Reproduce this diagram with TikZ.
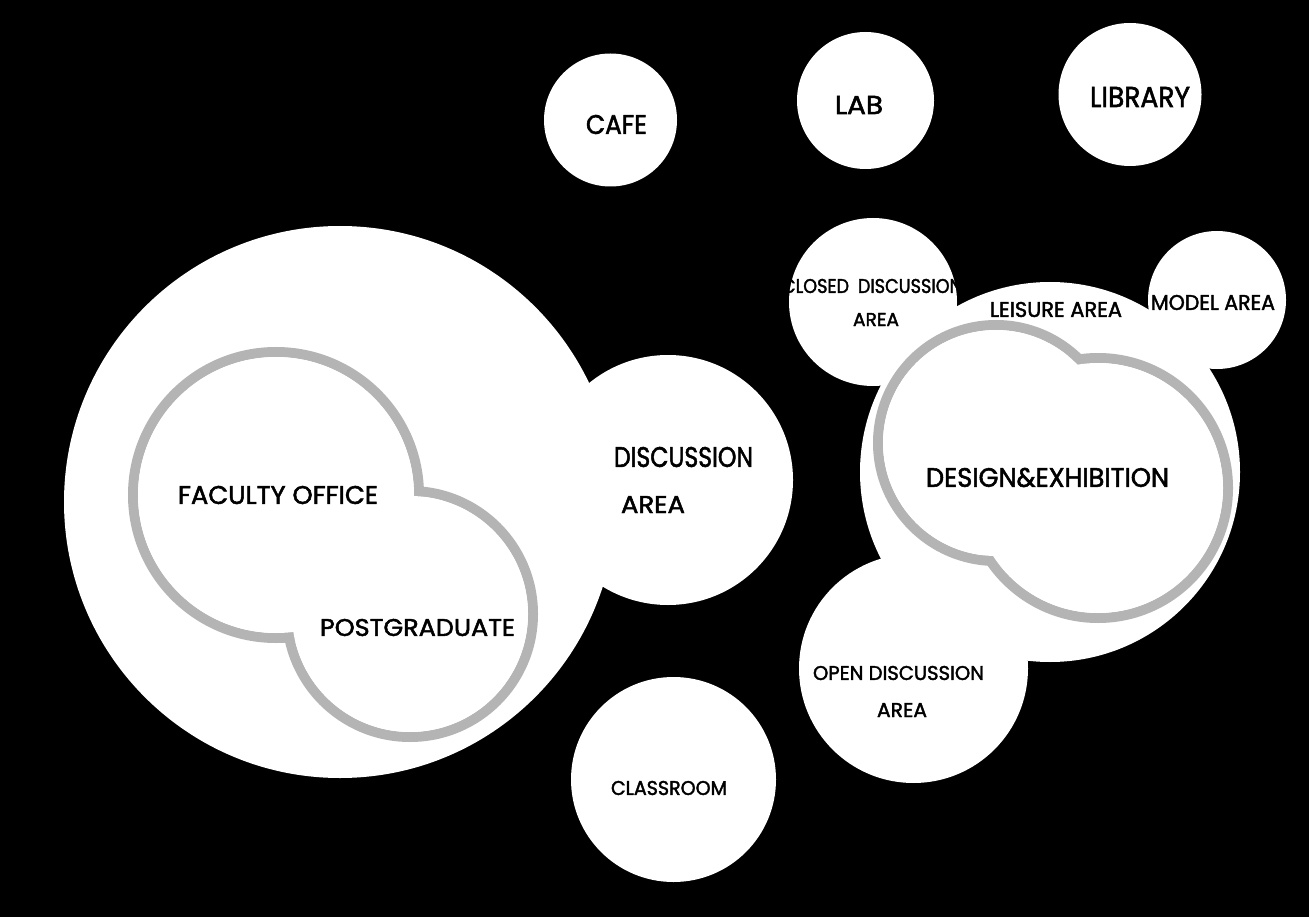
\documentclass[tikz,border=0pt]{standalone}
\usepackage{fontspec}
\setmainfont{Poppins}
\newfontfamily\lblfont{Poppins}[FakeBold=2]
\usepackage{graphicx}
\definecolor{ringgray}{RGB}{180,180,180}
\newcommand{\fitlbl}[3]{\resizebox{#1pt}{#2pt}{\lblfont #3}}
\tikzset{
  zone/.style={circle, fill=white, inner sep=0pt, outer sep=0pt, minimum size=#1},
  ringline/.style={circle, draw=ringgray, line width=10pt, inner sep=0pt, outer sep=0pt, minimum size=#1},
  ringfill/.style={circle, fill=white, inner sep=0pt, outer sep=0pt, minimum size=#1},
  lbl/.style={inner sep=0pt, outer sep=0pt, text=black}
}
\begin{document}
\begin{tikzpicture}[x=1pt,y=-1pt]
\fill[black] (0,0) rectangle (1309,917);
\useasboundingbox (0,0) rectangle (1309,917);
% white zones
\node[zone=552pt] (big) at (340,502) {};
\node[zone=250pt] (disc) at (668,480) {};
\node[zone=133pt] (cafe) at (610.5,120) {};
\node[zone=137pt] (lab) at (865.5,100.5) {};
\node[zone=143pt] (library) at (1130,94.5) {};
\node[zone=168pt] (closed) at (873,302) {};
\node[zone=138pt] (model) at (1217,300) {};
\node[zone=380pt] (design) at (1050,472) {};
\node[zone=229pt] (open) at (913.5,668.5) {};
\node[zone=205pt] (classroom) at (673.5,779.5) {};
% faculty / postgraduate outline
\node[ringline=286pt] (facring) at (276,495) {};
\node[ringline=246pt] (pgring) at (410,614) {};
\node[ringfill=276pt] (facin) at (276,495) {};
\node[ringfill=236pt] (pgin) at (410,614) {};
% design & exhibition outline
\node[ringline=236pt] (dering) at (996,443) {};
\node[ringline=260pt] (exring) at (1098,488) {};
\node[ringfill=226pt] (dein) at (996,443) {};
\node[ringfill=250pt] (exin) at (1098,488) {};
% labels
\node[lbl] (cafe-l) at (616.5,124.5) {\fitlbl{61}{19}{CAFE}};
\node[lbl] (lab-l) at (859,105) {\fitlbl{48}{18}{LAB}};
\node[lbl] (lib-l) at (1140,97) {\fitlbl{100}{20}{LIBRARY}};
\node[lbl] (closed-l1) at (872,286) {\fitlbl{180}{14}{CLOSED\hspace{0.5em}DISCUSSION}};
\node[lbl] (closed-l2) at (876,319.5) {\fitlbl{46}{13}{AREA}};
\node[lbl] (leisure-l) at (1056,309.5) {\fitlbl{132}{15}{LEISURE AREA}};
\node[lbl] (model-l) at (1213,302.5) {\fitlbl{124}{15}{MODEL AREA}};
\node[lbl] (design-l) at (1047.5,477.5) {\fitlbl{243}{19}{DESIGN\&EXHIBITION}};
\node[lbl] (disc-l1) at (683.5,457) {\fitlbl{139}{20}{DISCUSSION}};
\node[lbl] (disc-l2) at (653,504.5) {\fitlbl{64}{17}{AREA}};
\node[lbl] (fac-l) at (278,495) {\fitlbl{200}{18}{FACULTY OFFICE}};
\node[lbl] (pg-l) at (417.5,627.5) {\fitlbl{195}{17}{POSTGRADUATE}};
\node[lbl] (open-l1) at (898.5,673) {\fitlbl{171}{14}{OPEN DISCUSSION}};
\node[lbl] (open-l2) at (902,710) {\fitlbl{50}{14}{AREA}};
\node[lbl] (class-l) at (669,788) {\fitlbl{116}{14}{CLASSROOM}};
\end{tikzpicture}
\end{document}
